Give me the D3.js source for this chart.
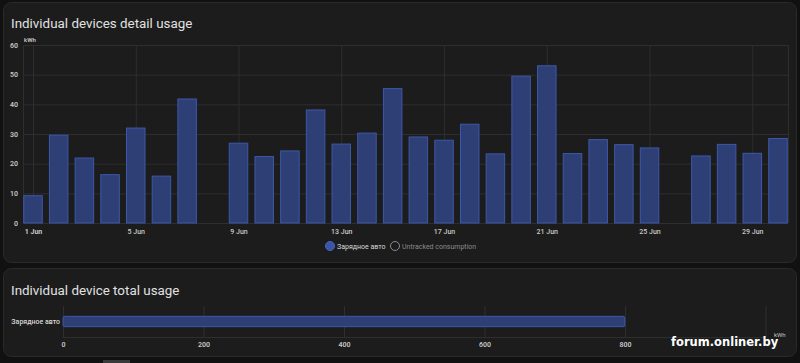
<!DOCTYPE html>
<html>
<head>
<meta charset="utf-8">
<script src="https://cdn.jsdelivr.net/npm/d3@7"></script>
<style>
  html, body { margin: 0; padding: 0; background: #111111; }
  body { width: 800px; height: 363px; overflow: hidden; font-family: Roboto, "Noto Sans", sans-serif; }
  .title { fill: #e1e1e1; font-size: 13.4px; }
  .tick text { fill: #c8c8c8; font-size: 7px; font-family: Roboto, sans-serif; }
  .grid line { stroke: #2e2e2e; stroke-width: 1; }
</style>
</head>
<body>
<svg id="chart" width="800" height="363"></svg>
<script>
// daily usage, kWh (null = no bar that day)
var days = [1, 2, 3, 4, 5, 6, 7, 8, 9, 10, 11, 12, 13, 14, 15,
            16, 17, 18, 19, 20, 21, 22, 23, 24, 25, 26, 27, 28, 29, 30];
var usage = [9.2, 29.6, 21.9, 16.3, 32.0, 15.8, 41.8, null, 26.9, 22.4, 24.3, 38.1, 26.6, 30.3, 45.3,
             29.0, 27.9, 33.3, 23.3, 49.5, 53.0, 23.4, 28.1, 26.4, 25.3, null, 22.6, 26.5, 23.5, 28.5];
var dayTicks = [1, 5, 9, 13, 17, 21, 25, 29];
var yTicks = [0, 10, 20, 30, 40, 50, 60];

// total per device
var devices = ["Зарядное авто"];
var totals = [799.7];
var totalTicks = [0, 200, 400, 600, 800, 1000];

var legendItems = ["Зарядное авто", "Untracked consumption"];

var svg = d3.select("#chart");

var barFill = "#2e3f75";
var barStroke = "#3d58aa";

// Cards
function card(y, h) {
  svg.append("rect")
    .attr("x", 3.5).attr("y", y + 0.5)
    .attr("width", 793).attr("height", h)
    .attr("rx", 8)
    .attr("fill", "#1c1c1c")
    .attr("stroke", "#2a2a2a");
}
card(2, 260);
card(268, 88);

svg.append("text").attr("class", "title")
  .attr("x", 11).attr("y", 28)
  .text("Individual devices detail usage");

svg.append("text").attr("class", "title")
  .attr("x", 11).attr("y", 294.5)
  .text("Individual device total usage");

// ---- Detail chart ----
var plotLeft = 23, plotRight = 788, plotTop = 45, plotBottom = 223;

var x = d3.scaleLinear().domain([1, 30]).range([33, 778]);
var y = d3.scaleLinear().domain([0, 60]).range([plotBottom, plotTop]);

// horizontal grid + y labels
var yAxis = d3.axisLeft(y)
  .tickValues(yTicks)
  .tickSize(-(plotRight - plotLeft))
  .tickPadding(5);

svg.append("g")
  .attr("class", "grid")
  .attr("transform", "translate(" + plotLeft + ",0)")
  .call(yAxis)
  .call(function(g) { g.select(".domain").remove(); })
  .selectAll("text").attr("font-weight", 600);

// vertical grid + x labels
var xAxis = d3.axisBottom(x)
  .tickValues(dayTicks)
  .tickSize(-(plotBottom - plotTop))
  .tickPadding(6)
  .tickFormat(function(d) { return d + " Jun"; });

svg.append("g")
  .attr("class", "grid")
  .attr("transform", "translate(0," + plotBottom + ")")
  .call(xAxis)
  .call(function(g) { g.select(".domain").remove(); })
  .selectAll("text")
  .attr("font-weight", function(d) { return d === 1 ? 700 : 500; });

// plot edges
svg.append("g").attr("class", "grid")
  .selectAll("line").data([plotLeft, plotRight]).enter()
  .append("line")
  .attr("x1", function(d) { return d + 0.5; })
  .attr("x2", function(d) { return d + 0.5; })
  .attr("y1", plotTop).attr("y2", plotBottom);

svg.append("text")
  .attr("x", 24).attr("y", 41.5)
  .attr("fill", "#c8c8c8")
  .attr("font-size", 6)
  .attr("font-weight", 600)
  .text("kWh");

var bw = 18.5;
svg.append("g")
  .selectAll("rect")
  .data(days.filter(function(d, i) { return usage[i] !== null; }))
  .enter()
  .append("rect")
  .attr("x", function(d) { return x(d) - bw / 2; })
  .attr("y", function(d) { return y(usage[d - 1]); })
  .attr("width", bw)
  .attr("height", function(d) { return y(0) - y(usage[d - 1]); })
  .attr("fill", barFill)
  .attr("stroke", barStroke)
  .attr("stroke-width", 1);

// legend
var legend = svg.append("g").attr("transform", "translate(330,246)");
legend.append("circle").attr("cx", 0).attr("cy", 0).attr("r", 4.5)
  .attr("fill", "#3a55a8").attr("stroke", "#4a66bb");
legend.append("text").attr("x", 7).attr("y", 2.5)
  .attr("fill", "#d8d8d8").attr("font-size", 7)
  .text(legendItems[0]);
legend.append("circle").attr("cx", 65).attr("cy", 0).attr("r", 4.5)
  .attr("fill", "none").attr("stroke", "#8a8a8a");
legend.append("text").attr("x", 72).attr("y", 2.5)
  .attr("fill", "#8a8a8a").attr("font-size", 7)
  .text(legendItems[1]);

// ---- Total chart ----
var tLeft = 63, tTop = 306, tBottom = 337;
var tx = d3.scaleLinear().domain([0, 1000]).range([tLeft, 765.5]);
var ty = d3.scaleBand().domain(devices).range([tTop, tBottom]).padding(0.5);

var txAxis = d3.axisBottom(tx)
  .tickValues(totalTicks)
  .tickSize(-(tBottom - tTop))
  .tickPadding(5)
  .tickFormat(function(d) { return d === 1000 ? "" : d; });

svg.append("g")
  .attr("class", "grid")
  .attr("transform", "translate(0," + tBottom + ")")
  .call(txAxis)
  .call(function(g) { g.select(".domain").remove(); })
  .selectAll("text").attr("font-weight", 600);

svg.append("line")
  .attr("x1", tLeft).attr("x2", tx(1000))
  .attr("y1", tBottom + 0.5).attr("y2", tBottom + 0.5)
  .attr("stroke", "#2e2e2e");

svg.append("g")
  .selectAll("text")
  .data(devices).enter()
  .append("text")
  .attr("x", tLeft - 3)
  .attr("y", function(d) { return ty(d) + ty.bandwidth() / 2 + 2.5; })
  .attr("text-anchor", "end")
  .attr("fill", "#d8d8d8")
  .attr("font-size", 7)
  .attr("font-weight", 500)
  .text(function(d) { return d; });

svg.append("g")
  .selectAll("rect")
  .data(devices).enter()
  .append("rect")
  .attr("x", tx(0))
  .attr("y", function(d) { return ty(d); })
  .attr("width", function(d, i) { return tx(totals[i]) - tx(0); })
  .attr("height", ty.bandwidth())
  .attr("rx", 1.5)
  .attr("fill", barFill)
  .attr("stroke", barStroke);

svg.append("text")
  .attr("x", 774).attr("y", 337)
  .attr("fill", "#c8c8c8")
  .attr("font-size", 6)
  .text("kWh");

// watermark
svg.append("text")
  .attr("x", 671).attr("y", 346)
  .attr("fill", "#ffffff")
  .attr("font-family", "DejaVu Sans")
  .attr("font-weight", "bold")
  .attr("font-size", 11.5)
  .text("forum.onliner.by");

// small scroll bar bit at the bottom
svg.append("rect")
  .attr("x", 103).attr("y", 360).attr("width", 27).attr("height", 3)
  .attr("fill", "#3a3a3a");
</script>
</body>
</html>
